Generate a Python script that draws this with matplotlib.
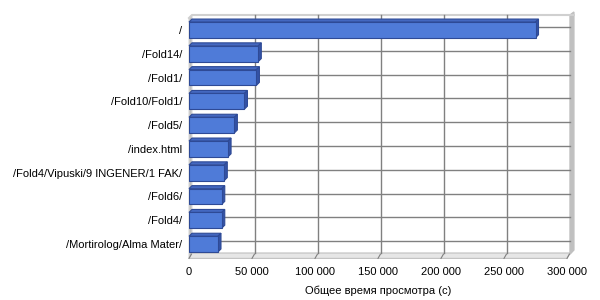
import matplotlib
matplotlib.use('Agg')
import matplotlib.pyplot as plt
from matplotlib.patches import Polygon

plt.rcParams['font.family'] = ['Liberation Sans', 'DejaVu Sans']

# данные
pages = ['/', '/Fold14/', '/Fold1/', '/Fold10/Fold1/', '/Fold5/', '/index.html',
         '/Fold4/Vipuski/9 INGENER/1 FAK/', '/Fold6/', '/Fold4/', '/Mortirolog/Alma Mater/']
view_time = [275000, 55000, 53500, 44000, 36000, 31000, 28000, 26000, 26000, 23000]
xticks = [0, 50000, 100000, 150000, 200000, 250000, 300000]
xticklabels = ['0', '50 000', '100 000', '150 000', '200 000', '250 000', '300 000']

W, H = 600, 300
fig = plt.figure(figsize=(6, 3), dpi=100)
# передняя плоскость графика (в пикселях: x 189..567, y 18..256)
L, R, T, B = 189, 567, 18, 256
ax = fig.add_axes([L / W, 1 - B / H, (R - L) / W, (B - T) / H])

n = len(pages)
ypos = list(range(n))[::-1]
xmax = 300000
ax.set_xlim(0, xmax)
ax.set_ylim(-0.5, n - 0.5)

# глубина 3px -> в единицах данных
d = 3
dx = d * xmax / (R - L)
dy = d * n / (B - T)

# задняя стенка: сетка сдвинута на глубину
for y in ypos:
    ax.plot([dx, xmax + dx], [y + dy, y + dy], color='#808080', linewidth=1,
            zorder=1, clip_on=False)
for x in xticks[1:-1]:
    ax.plot([x + dx, x + dx], [-0.5 + dy, n - 0.5 + dy], color='#808080',
            linewidth=1, zorder=1, clip_on=False)

# левая стенка
ax.add_patch(Polygon([(0, -0.5 - 0.1), (dx, -0.5 + dy), (dx, n - 0.5 + dy),
                      (0, n - 0.5)], closed=True, facecolor='#C0C0C0',
                     edgecolor='#D8D8D8', linewidth=0.8, clip_on=False, zorder=0))
# правая стенка
ax.add_patch(Polygon([(xmax + dx, -0.5 + dy - 0.05), (xmax + 2.3 * dx, -0.5 + 2 * dy),
                      (xmax + 2.3 * dx, n - 0.5 + 2 * dy), (xmax + dx, n - 0.5 + dy)],
                     closed=True, facecolor='#C0C0C0', edgecolor='#C0C0C0',
                     linewidth=1, clip_on=False, zorder=0))
# верхняя кромка
ax.plot([0, dx, xmax + 2.3 * dx], [n - 0.5, n - 0.5 + dy, n - 0.5 + dy],
        color='#D0D0D0', linewidth=1.5, clip_on=False, zorder=0)
# пол
ax.add_patch(Polygon([(0, -0.5 - 0.1), (xmax, -0.5 - 0.1), (xmax + dx, -0.5 + dy),
                      (dx, -0.5 + dy)], closed=True, facecolor='#E6E6E6',
                     edgecolor='#C0C0C0', linewidth=0.8, clip_on=False, zorder=0))
for x in xticks:
    ax.plot([x, x + dx * 0.8], [-0.5 - 0.1, -0.5 + dy * 0.6], color='#808080',
            linewidth=0.8, clip_on=False, zorder=1)

# столбцы: верхняя и правая грани, затем передняя грань
h = 0.66
for y, v in zip(ypos, view_time):
    top = [(0, y + h / 2), (v, y + h / 2), (v + dx, y + h / 2 + dy), (dx, y + h / 2 + dy)]
    side = [(v, y - h / 2), (v + dx, y - h / 2 + dy), (v + dx, y + h / 2 + dy), (v, y + h / 2)]
    ax.add_patch(Polygon(top, closed=True, facecolor='#4468C0', edgecolor='#2E4A96',
                         linewidth=0.8, clip_on=False, zorder=3))
    ax.add_patch(Polygon(side, closed=True, facecolor='#3453A6', edgecolor='#2E4A96',
                         linewidth=0.8, clip_on=False, zorder=3))
ax.barh(ypos, view_time, height=h, color='#4F7BD8', edgecolor='#2E4A96',
        linewidth=0.8, zorder=4)

ax.set_xticks(xticks)
ax.set_xticklabels(xticklabels, fontsize=8)
ax.set_yticks(ypos)
ax.set_yticklabels(pages, fontsize=8)
ax.tick_params(axis='y', length=0, pad=5)
ax.tick_params(axis='x', length=0, pad=8)

for s in ['top', 'right', 'left', 'bottom']:
    ax.spines[s].set_visible(False)
ax.patch.set_alpha(0)

ax.set_xlabel('Общее время просмотра (с)', fontsize=8, labelpad=6)

plt.savefig('out.png', dpi=100)
